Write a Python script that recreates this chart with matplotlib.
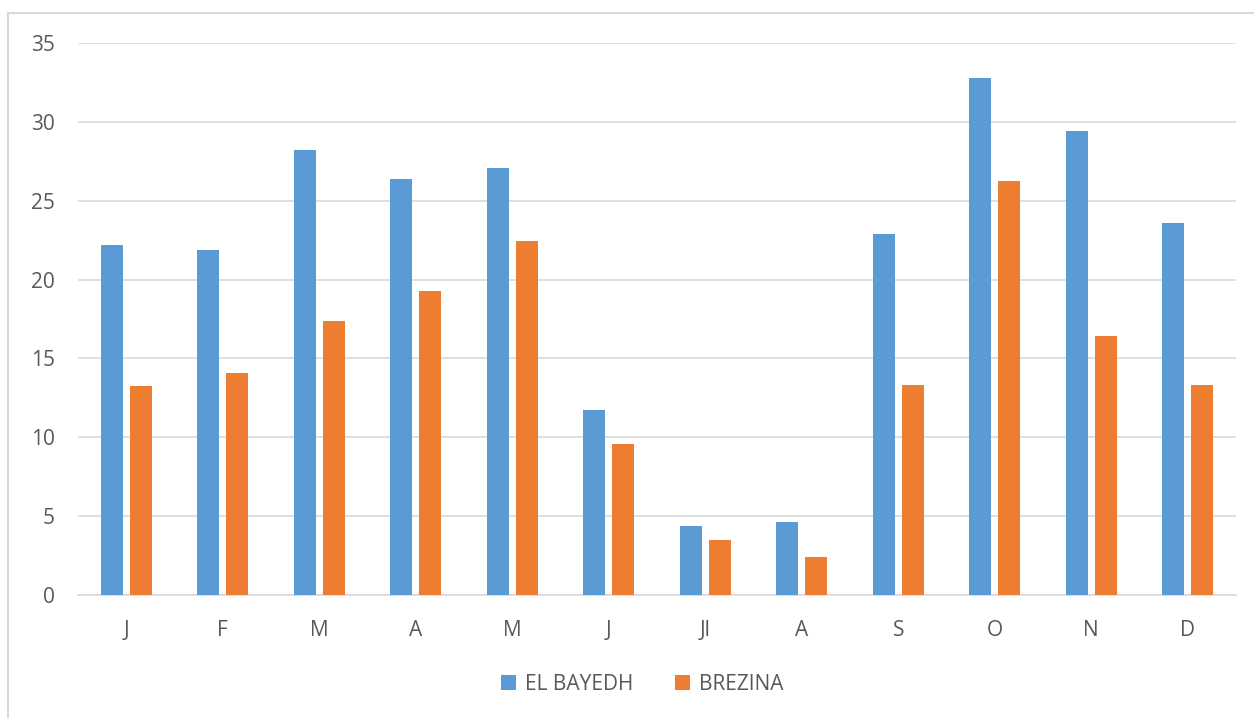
import matplotlib
matplotlib.use('Agg')

import matplotlib.pyplot as plt
import numpy as np
from matplotlib.patches import Rectangle

months = ['J', 'F', 'M', 'A', 'M', 'J', 'Jl', 'A', 'S', 'O', 'N', 'D']
el_bayedh = [22.2, 21.9, 28.2, 26.4, 27.1, 11.7, 4.4, 4.6, 22.9, 32.8, 29.4, 23.6]
brezina = [13.25, 14.1, 17.4, 19.3, 22.45, 9.6, 3.5, 2.4, 13.3, 26.25, 16.4, 13.3]

plt.rcParams['font.family'] = ['Open Sans', 'DejaVu Sans']
text_color = '#595959'

fig = plt.figure(figsize=(12.54, 7.18), dpi=100)
# thin frame around the chart area (only left/top visible in the reference)
fig.patches.append(Rectangle((8 / 1254, -0.1), 1.2, (718 - 13) / 718 + 0.1,
                             transform=fig.transFigure, fill=False,
                             edgecolor='#D9D9D9', linewidth=1.5))

ax = fig.add_axes([78 / 1254, 123 / 718, (1236 - 78) / 1254, (595 - 43) / 718])
x = np.arange(len(months))
w = 0.228
ax.bar(x - 0.15, el_bayedh, w, color='#5B9BD5', label='EL BAYEDH', zorder=3)
ax.bar(x + 0.15, brezina, w, color='#ED7D31', label='BREZINA', zorder=3)

ax.set_xlim(-0.5, len(months) - 0.5)
ax.set_ylim(0, 35)
ax.set_yticks(range(0, 36, 5))
ax.set_xticks(x)
ax.set_xticklabels(months)
ax.grid(axis='y', color='#D9D9D9', linewidth=1.2, zorder=0)
for s in ['top', 'right', 'left']:
    ax.spines[s].set_visible(False)
ax.spines['bottom'].set_color('#D9D9D9')
ax.spines['bottom'].set_linewidth(1.2)
ax.tick_params(length=0, labelsize=15, colors=text_color)
ax.tick_params(axis='y', pad=16.5)
ax.tick_params(axis='x', pad=18)

ax.legend(loc='center', bbox_to_anchor=(0.487, -0.162), ncol=2, frameon=False,
          fontsize=15, labelcolor=text_color, handlelength=0.75, handleheight=0.75,
          handletextpad=0.4, columnspacing=2.0)

plt.savefig('out.png', dpi=100)
plt.close()
